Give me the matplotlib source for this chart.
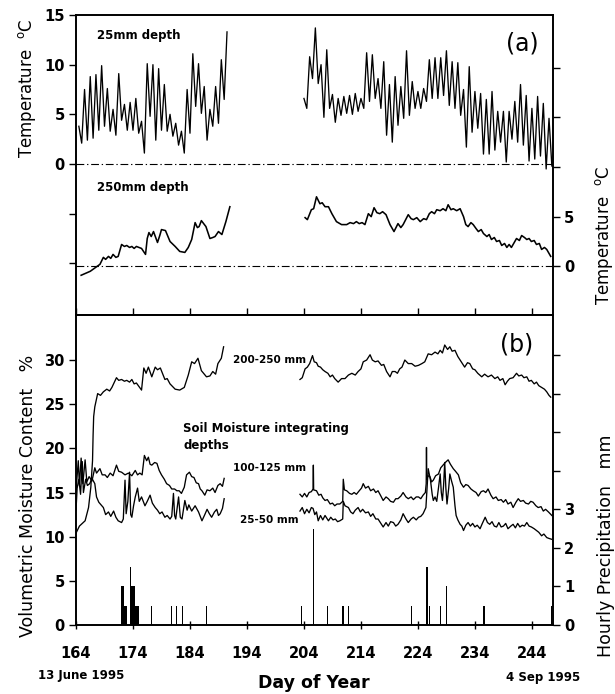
import matplotlib
matplotlib.use('Agg')
import matplotlib.pyplot as plt
import numpy as np

plt.rcParams['font.family'] = ['DejaVu Sans']
plt.rcParams['mathtext.fontset'] = 'dejavusans'

# ---------------- DATA ----------------
day_ticks = [164, 174, 184, 194, 204, 214, 224, 234, 244]

# 25 mm depth temperature (daily min / max, half-day sampling)
t25a_start = 164.5
t25a = [3.8, 2.1, 7.5, 2.4, 8.8, 2.6, 9.0, 3.4, 9.9, 3.8, 7.6, 3.3, 5.5, 2.9, 9.1, 4.4, 6.0,
        3.4, 6.2, 3.4, 6.6, 3.1, 4.3, 1.1, 10.1, 4.8, 10.0, 2.4, 9.6, 3.4, 8.0, 3.3, 5.0,
        2.8, 4.1, 1.9, 3.3, 1.1, 7.5, 3.1, 11.1, 5.8, 10.1, 5.1, 7.8, 2.4, 5.5, 3.8, 7.8,
        4.1, 10.5, 6.5, 13.3]
t25b_start = 204.0
t25b = [6.6, 5.6, 10.8, 8.6, 13.7, 8.1, 10.0, 4.7, 11.5, 5.6, 7.0, 4.2, 6.6, 4.9, 6.8, 5.1,
        6.9, 5.0, 7.1, 5.3, 6.6, 5.6, 11.2, 6.3, 11.0, 6.6, 8.6, 5.6, 10.3, 2.9, 8.0, 2.2,
        8.8, 3.9, 7.8, 4.6, 11.4, 4.9, 8.3, 5.6, 7.3, 5.6, 7.6, 6.3, 10.5, 6.6, 10.7, 6.6,
        10.7, 6.9, 11.4, 5.9, 10.3, 5.6, 10.2, 4.9, 7.5, 1.7, 9.8, 3.2, 7.3, 3.6, 7.1, 1.0,
        6.5, 1.0, 7.3, 1.4, 5.3, 2.2, 5.3, 0.2, 5.3, 2.5, 6.3, 2.2, 8.0, 1.9, 6.9, 0.3,
        5.6, 0.5, 6.8, 0.8, 6.1, -0.5, 4.6, -0.2]

# 250 mm depth temperature
t250a_days = [164.9, 166.5, 168.2, 168.8, 169.2, 169.7, 170.1, 170.5, 171.0, 171.4, 172.0,
              172.5, 172.9, 173.4, 173.8, 174.2, 174.6, 175.5, 176.2, 176.5, 176.8, 177.2,
              177.6, 178.3, 178.7, 179.0, 179.7, 180.5, 181.4, 182.2, 183.1, 183.7, 184.3,
              184.9, 185.3, 185.6, 186.0, 186.8, 187.5, 188.0, 188.4, 189.0, 189.6, 190.3, 191.0]
t250a = [-0.9, -0.5, 0.2, 0.9, 0.7, 1.0, 0.8, 1.2, 0.9, 1.0, 2.2,
         2.0, 2.1, 1.9, 2.0, 1.8, 2.0, 1.8, 1.2, 2.8, 3.4, 3.0,
         3.5, 2.4, 3.1, 3.7, 3.6, 2.5, 2.0, 1.5, 1.4, 1.9, 2.7,
         4.4, 3.9, 4.0, 4.6, 4.0, 2.8, 2.9, 3.0, 3.5, 3.2, 4.5, 6.0]
t250b_days = [204.2, 204.6, 205.3, 205.7, 206.2, 206.8, 207.2, 207.7, 208.3, 208.9, 209.7,
              210.6, 211.5, 212.1, 212.7, 213.2, 213.7, 214.2, 214.7, 215.3, 215.8, 216.3,
              216.8, 217.3, 217.8, 218.4, 219.1, 219.8, 220.5, 221.0, 221.4, 222.3, 222.8,
              223.2, 223.8, 224.4, 225.0, 225.5, 226.0, 226.4, 226.9, 227.3, 227.9, 228.4,
              228.9, 229.3, 229.8, 230.2, 230.8, 231.4, 232.0, 232.4, 232.8, 233.3, 233.7,
              234.2, 234.6, 235.1, 235.5, 236.1, 236.5, 236.9, 237.4, 237.8, 238.3, 238.7,
              239.2, 239.6, 240.0, 240.4, 240.9, 241.3, 241.8, 242.2, 242.7, 243.1, 243.5,
              243.9, 244.4, 244.8, 245.3, 245.7, 246.2, 246.6, 247.0, 247.3]
t250b = [4.9, 4.7, 5.7, 5.8, 7.0, 6.3, 6.4, 6.0, 6.0, 5.3, 4.5,
         4.2, 4.2, 4.4, 4.3, 4.5, 4.3, 4.4, 4.2, 5.3, 5.0, 5.9,
         5.4, 5.3, 5.5, 5.2, 4.2, 3.5, 4.3, 3.9, 4.2, 5.2, 4.8,
         4.7, 4.9, 4.5, 4.8, 4.7, 5.3, 5.5, 5.3, 5.7, 5.6, 5.8,
         5.6, 6.2, 5.7, 5.8, 5.6, 5.8, 5.0, 4.2, 4.0, 4.4, 4.2,
         3.8, 3.5, 3.7, 3.3, 3.0, 3.2, 2.7, 2.9, 2.5, 2.6, 2.1,
         2.3, 1.9, 2.2, 1.9, 2.4, 2.8, 2.6, 3.1, 2.9, 2.7, 2.8,
         2.5, 2.6, 2.2, 2.3, 1.7, 1.9, 1.7, 1.3, 1.0]

# Soil moisture (%), 200-250 mm
m200a = [(164.0, 10.4), (164.6, 11.2), (165.6, 11.8), (166.2, 13.3), (166.6, 15.6), (166.9, 18.6),
         (167.0, 21.5), (167.1, 23.6), (167.3, 24.7), (167.8, 26.2), (168.3, 26.0), (168.8, 26.4),
         (169.4, 26.7), (169.9, 26.5), (170.3, 26.9), (171.1, 28.0), (171.5, 27.7), (172.0, 27.8),
         (172.5, 27.6), (172.9, 27.7), (173.4, 27.5), (173.8, 27.8), (174.2, 27.3), (174.6, 27.4),
         (175.5, 26.6), (175.9, 29.1), (176.3, 28.5), (176.7, 29.2), (177.3, 28.1), (177.9, 29.2),
         (178.3, 28.9), (178.8, 29.1), (179.6, 27.8), (180.0, 27.9), (180.5, 27.3), (181.4, 26.7),
         (182.2, 26.6), (183.0, 26.9), (183.7, 28.3), (184.3, 29.8), (184.8, 29.6), (185.4, 30.2),
         (186.0, 28.8), (186.9, 28.1), (187.5, 28.2), (188.0, 28.7), (188.5, 28.4), (188.9, 29.6),
         (189.5, 30.2), (189.9, 31.5)]
m200b = [(203.3, 27.8), (203.7, 28.0), (204.2, 29.0), (204.6, 29.2), (205.0, 29.6), (205.5, 30.5),
         (205.8, 29.8), (206.2, 29.7), (206.5, 29.3), (206.9, 29.2), (207.3, 28.9), (207.7, 28.7),
         (208.2, 28.5), (208.6, 28.1), (209.0, 28.3), (209.4, 27.9), (210.0, 27.5), (210.6, 27.9),
         (211.2, 27.9), (211.8, 28.3), (212.4, 28.5), (213.0, 28.3), (213.5, 28.7), (214.0, 29.0),
         (214.4, 29.8), (215.0, 30.0), (215.6, 30.6), (216.0, 30.0), (216.5, 29.8), (217.0, 29.9),
         (217.6, 29.4), (218.0, 29.5), (218.5, 28.7), (219.1, 28.1), (219.5, 28.7), (220.0, 28.7),
         (220.4, 28.5), (220.8, 29.0), (221.2, 29.2), (221.7, 30.0), (222.3, 29.6), (222.9, 29.6),
         (223.5, 29.3), (224.1, 29.4), (224.7, 29.6), (225.2, 29.8), (225.8, 30.7), (226.4, 30.6),
         (227.0, 30.9), (227.5, 30.7), (227.9, 31.1), (228.3, 30.8), (228.7, 31.7), (229.2, 31.2),
         (229.6, 31.5), (230.0, 31.0), (230.5, 31.1), (231.0, 30.4), (231.4, 30.0), (231.8, 29.6),
         (232.2, 29.2), (232.7, 29.7), (233.1, 29.6), (233.6, 29.0), (234.0, 28.9), (234.5, 28.5),
         (235.2, 28.1), (235.7, 28.4), (236.3, 28.1), (236.9, 28.3), (237.5, 27.9), (238.0, 28.1),
         (238.4, 27.7), (238.9, 27.9), (239.3, 27.2), (239.7, 27.6), (240.1, 27.9), (240.7, 28.0),
         (241.3, 28.5), (241.7, 28.2), (242.2, 28.3), (242.6, 28.0), (243.1, 28.1), (243.5, 27.6),
         (243.9, 27.7), (244.4, 27.3), (244.8, 27.5), (245.2, 27.1), (245.7, 26.9), (246.2, 26.7),
         (246.6, 26.4), (247.0, 26.0), (247.3, 25.8)]

# Soil moisture (%), 100-125 mm
m100a = [(164.0, 15.2), (164.4, 18.6), (164.6, 15.8), (164.9, 18.9), (165.2, 16.0), (165.6, 18.7),
         (165.9, 16.2), (166.3, 16.8), (166.8, 16.3), (167.3, 17.8), (167.6, 17.2), (168.2, 17.7),
         (168.6, 17.0), (169.1, 17.0), (169.5, 16.7), (170.0, 17.2), (170.5, 16.9), (171.1, 18.1),
         (171.5, 17.4), (172.0, 17.3), (172.6, 17.0), (173.2, 17.2), (173.8, 16.9), (174.4, 17.5),
         (174.8, 17.0), (175.2, 17.2), (175.6, 17.0), (176.0, 19.2), (176.4, 18.6), (176.7, 19.0),
         (177.0, 18.2), (177.3, 18.1), (177.8, 18.4), (178.2, 18.3), (178.6, 17.5), (179.0, 17.0),
         (179.5, 16.5), (179.9, 16.0), (180.4, 15.8), (180.8, 15.4), (181.3, 15.4), (181.7, 15.2),
         (182.1, 15.2), (182.5, 14.9), (183.0, 15.6), (183.4, 17.0), (183.9, 17.3), (184.3, 16.8),
         (184.7, 16.7), (185.1, 16.1), (185.5, 16.0), (185.8, 15.4), (186.1, 15.2), (186.6, 14.7),
         (187.0, 15.3), (187.5, 15.2), (188.0, 15.5), (188.4, 15.0), (188.9, 15.8), (189.3, 16.0),
         (189.7, 15.7), (190.0, 16.6)]
m100b = [(203.3, 14.8), (203.7, 14.5), (204.1, 14.9), (204.5, 14.5), (204.9, 15.0), (205.3, 15.1),
         (205.6, 15.4), (205.65, 18.1), (205.7, 15.3), (206.2, 15.2), (206.6, 14.7), (207.0, 14.8),
         (207.3, 14.4), (207.7, 14.1), (208.1, 14.2), (208.6, 13.7), (209.0, 13.8), (209.4, 13.5),
         (209.8, 13.7), (210.3, 13.7), (210.8, 14.0), (210.9, 16.5), (211.1, 15.3), (211.5, 15.2),
         (212.0, 14.9), (212.4, 14.8), (212.8, 15.0), (213.2, 14.8), (213.7, 15.2), (214.1, 15.5),
         (214.4, 16.0), (214.8, 15.5), (215.3, 15.7), (215.7, 15.2), (216.2, 15.4), (216.6, 15.0),
         (217.0, 15.2), (217.5, 14.6), (217.9, 14.1), (218.4, 14.5), (218.8, 14.3), (219.2, 14.0),
         (219.7, 13.9), (220.1, 14.3), (220.5, 14.3), (221.0, 14.6), (221.4, 15.0), (221.9, 14.5),
         (222.3, 14.3), (222.8, 14.5), (223.2, 14.2), (223.7, 14.5), (224.1, 14.5), (224.5, 14.3),
         (224.9, 14.7), (225.3, 15.0), (225.45, 16.0), (225.5, 20.1), (225.55, 16.5), (225.8, 16.9),
         (226.1, 16.8), (226.4, 16.2), (226.7, 16.4), (227.1, 16.9), (227.6, 17.1), (228.0, 17.8),
         (228.4, 18.1), (228.8, 18.4), (229.3, 18.7), (229.7, 18.2), (230.2, 17.7), (230.6, 17.4),
         (231.1, 17.0), (231.5, 16.1), (232.0, 15.6), (232.4, 15.9), (232.8, 15.8), (233.3, 15.4),
         (233.7, 15.2), (234.2, 15.0), (234.6, 14.6), (235.1, 15.1), (235.5, 15.2), (235.9, 15.0),
         (236.3, 15.4), (236.8, 14.7), (237.2, 14.3), (237.7, 14.5), (238.1, 14.1), (238.6, 14.2),
         (239.0, 13.9), (239.4, 14.2), (239.8, 13.7), (240.3, 13.9), (240.7, 13.3), (241.2, 13.9),
         (241.6, 14.3), (242.0, 14.0), (242.5, 14.1), (242.9, 13.8), (243.4, 13.7), (243.8, 14.0),
         (244.2, 13.9), (244.7, 13.5), (245.1, 13.3), (245.6, 13.4), (246.0, 12.9), (246.4, 13.1),
         (246.9, 12.8), (247.2, 12.6), (247.5, 12.4)]

# Soil moisture (%), 25-50 mm
m25a = [(164.0, 13.0), (164.2, 15.5), (164.5, 16.5), (164.8, 14.8), (165.1, 18.5), (165.3, 15.0),
        (165.7, 16.5), (166.0, 15.8), (166.4, 16.0), (166.8, 16.6), (167.3, 16.0), (167.6, 14.5),
        (168.0, 13.9), (168.4, 13.6), (168.8, 13.3), (169.2, 12.5), (169.7, 12.8), (170.1, 12.3),
        (170.6, 12.9), (171.0, 12.2), (171.4, 11.8), (172.0, 11.6), (172.3, 12.0), (172.6, 16.4),
        (172.8, 12.6), (173.1, 14.0), (173.4, 17.3), (173.6, 12.5), (173.8, 12.2), (174.1, 13.5),
        (174.4, 14.5), (174.8, 15.5), (175.1, 14.0), (175.5, 14.5), (176.1, 13.5), (176.5, 14.0),
        (177.0, 14.7), (177.4, 13.8), (177.9, 13.3), (178.3, 13.0), (178.7, 12.6), (179.1, 12.8),
        (179.6, 12.2), (180.0, 12.4), (180.5, 12.0), (180.8, 12.3), (181.1, 14.9), (181.3, 12.4),
        (181.5, 12.0), (182.0, 14.5), (182.3, 12.2), (182.6, 12.0), (183.1, 14.1), (183.5, 13.0),
        (183.8, 13.6), (184.3, 12.9), (184.9, 13.5), (185.5, 12.8), (186.1, 11.8), (186.6, 12.5),
        (187.0, 13.1), (187.4, 12.6), (187.8, 12.2), (188.3, 12.8), (188.7, 13.1), (189.0, 12.4),
        (189.3, 12.6), (189.7, 13.2), (190.0, 14.3)]
m25b = [(203.3, 12.9), (203.7, 13.3), (204.1, 12.6), (204.5, 13.1), (204.9, 12.7), (205.3, 13.3),
        (205.6, 13.2), (205.9, 12.5), (206.2, 12.8), (206.5, 11.8), (206.9, 12.4), (207.3, 11.9),
        (207.7, 12.4), (208.3, 11.8), (208.7, 12.2), (209.1, 11.9), (209.5, 12.0), (209.9, 11.7),
        (210.3, 11.8), (210.8, 12.0), (210.9, 14.0), (211.2, 13.5), (211.8, 13.3), (212.2, 12.8),
        (212.6, 12.6), (213.0, 13.0), (213.5, 13.3), (213.9, 12.8), (214.3, 13.1), (214.8, 12.7),
        (215.3, 12.8), (215.7, 12.3), (216.1, 12.6), (216.6, 12.0), (217.0, 12.0), (217.5, 11.5),
        (217.9, 11.1), (218.4, 11.6), (218.8, 11.2), (219.2, 11.7), (219.7, 11.6), (220.1, 11.2),
        (220.5, 11.4), (221.0, 11.9), (221.4, 12.6), (221.9, 12.0), (222.3, 11.6), (222.8, 12.0),
        (223.2, 12.2), (223.7, 11.9), (224.1, 12.2), (224.5, 12.3), (224.9, 12.6), (225.4, 13.3),
        (225.8, 17.7), (226.2, 16.4), (226.5, 14.8), (226.7, 14.1), (227.0, 14.5), (227.3, 14.0),
        (227.6, 15.5), (227.9, 17.1), (228.1, 15.0), (228.3, 14.1), (228.5, 15.8), (228.7, 18.4),
        (228.9, 15.5), (229.1, 13.7), (229.4, 15.5), (229.6, 17.1), (229.9, 16.3), (230.2, 15.6),
        (230.5, 13.5), (230.7, 12.4), (231.0, 11.9), (231.4, 11.4), (231.7, 11.2), (232.0, 10.7),
        (232.4, 11.3), (232.8, 11.6), (233.2, 11.2), (233.6, 11.5), (234.0, 11.1), (234.4, 11.3),
        (234.9, 10.9), (235.3, 11.5), (235.8, 12.2), (236.2, 11.6), (236.6, 11.4), (237.0, 11.7),
        (237.4, 11.2), (237.8, 11.1), (238.2, 11.6), (238.6, 11.1), (239.0, 11.2), (239.4, 11.5),
        (239.8, 10.9), (240.3, 11.2), (240.7, 11.4), (241.1, 11.0), (241.5, 11.5), (241.9, 11.1),
        (242.3, 11.3), (242.7, 11.2), (243.1, 11.6), (243.5, 11.2), (243.9, 11.1), (244.4, 10.9),
        (244.8, 10.7), (245.2, 10.5), (245.7, 10.1), (246.1, 10.3), (246.6, 9.9), (247.0, 9.8),
        (247.5, 9.7)]

# Hourly precipitation (mm)
rain_days = [172.0, 172.2, 172.4, 172.6, 172.8, 173.6, 173.8, 174.0, 174.2, 174.4, 174.6, 174.8,
             175.0, 177.3, 180.7, 181.7, 182.7, 186.9, 203.6, 205.6, 208.1, 210.7, 211.0, 211.8,
             222.9, 225.6, 226.0, 227.9, 229.0, 235.6, 247.4]
rain_mm = [1.0, 1.0, 1.0, 0.5, 0.5, 1.5, 1.0, 1.0, 1.0, 0.5, 0.5, 0.5,
           0.5, 0.5, 0.5, 0.5, 0.5, 0.5, 0.5, 2.5, 0.5, 0.5, 0.5, 0.5,
           0.5, 1.5, 0.5, 0.5, 1.0, 0.5, 0.5]

# ---------------- FIGURE ----------------
W_PX, H_PX = 615, 694
fig = plt.figure(figsize=(W_PX / 100, H_PX / 100), dpi=100)


def fx(x):
    return x / W_PX


def fy(y):
    return 1 - y / H_PX


X0, X1 = 76, 553
axa = fig.add_axes([fx(X0), fy(315), fx(X1 - X0), (315 - 15) / H_PX])
axb = fig.add_axes([fx(X0), fy(625), fx(X1 - X0), (625 - 315) / H_PX])

LW = 0.95
SPW = 1.2
tickfont = dict(fontsize=10.5, fontweight='bold')
dashdot = (0, (7, 2.5, 1.2, 2.5))
XLIM = (164, 247.7)

# ---- panel (a)
d25a = t25a_start + 0.5 * np.arange(len(t25a))
d25b = t25b_start + 0.5 * np.arange(len(t25b))
axa.plot(d25a, t25a, color='k', lw=LW)
axa.plot(d25b, t25b, color='k', lw=LW)
axa.axhline(0, color='k', lw=0.8, ls=dashdot)
axa.set_xlim(*XLIM)
axa.set_ylim(-15.2, 15)
axa.set_yticks([-10, -5, 0, 5, 10, 15])
axa.set_yticklabels(['', '', '0', '5', '10', '15'], **tickfont)
axa.set_xticks(day_ticks)
axa.set_xticklabels([])
axa.tick_params(axis='x', direction='in', length=5, width=1)
axa.tick_params(axis='y', direction='out', length=5, width=1, pad=3)

axa2 = axa.twinx()
axa2.plot(t250a_days, t250a, color='k', lw=LW * 1.2)
axa2.plot(t250b_days, t250b, color='k', lw=LW * 1.2)
axa2.axhline(0, color='k', lw=0.8, ls=dashdot)
axa2.set_ylim(-15.2 + 10.3, 15 + 10.3)
axa2.set_yticks([0, 5, 10, 15, 20])
axa2.set_yticklabels(['0', '5', '', '', ''], **tickfont)
axa2.tick_params(axis='y', direction='out', length=5, width=1, pad=3)
axa2.set_xlim(*XLIM)

# ---- panel (b)
for ser in (m200a, m200b, m100a, m100b, m25a, m25b):
    dd, vv = zip(*ser)
    axb.plot(dd, vv, color='k', lw=LW)
axb.set_xlim(*XLIM)
axb.set_ylim(0, 35.1)
axb.set_yticks([0, 5, 10, 15, 20, 25, 30])
axb.set_yticklabels(['0', '5', '10', '15', '20', '25', '30'], **tickfont)
axb.set_xticks(day_ticks)
axb.set_xticklabels([str(d) for d in day_ticks], **tickfont)
axb.tick_params(axis='x', direction='inout', length=6, width=1, pad=12)
axb.tick_params(axis='y', direction='out', length=5, width=1, pad=3)

axb2 = axb.twinx()
axb2.bar(rain_days, rain_mm, width=0.2, color='k', align='center')
axb2.set_ylim(0, 8.05)
axb2.set_yticks([0, 1, 2, 3, 4, 5, 6, 7])
axb2.set_yticklabels(['0', '1', '2', '3', '', '', '', ''], **tickfont)
axb2.tick_params(axis='y', direction='out', length=5, width=1, pad=3)
axb2.set_xlim(*XLIM)

for ax in (axa, axa2, axb, axb2):
    for s in ax.spines.values():
        s.set_linewidth(SPW)

# ---- texts
fig.text(fx(97), fy(36), '25mm depth', fontsize=8.5, fontweight='bold', ha='left', va='center')
fig.text(fx(97), fy(188), '250mm depth', fontsize=8.5, fontweight='bold', ha='left', va='center')
fig.text(fx(522), fy(43), '(a)', fontsize=17, ha='center', va='center')
fig.text(fx(517), fy(345), '(b)', fontsize=17, ha='center', va='center')
fig.text(fx(233), fy(360), '200-250 mm', fontsize=7.5, fontweight='bold', ha='left', va='center')
fig.text(fx(183), fy(428), 'Soil Moisture integrating', fontsize=8.5, fontweight='bold',
         ha='left', va='center')
fig.text(fx(183), fy(446), 'depths', fontsize=8.5, fontweight='bold', ha='left', va='center')
fig.text(fx(233), fy(468), '100-125 mm', fontsize=7.5, fontweight='bold', ha='left', va='center')
fig.text(fx(240), fy(520), '25-50 mm', fontsize=7.5, fontweight='bold', ha='left', va='center')

fig.text(fx(27), fy(88), r'Temperature  $^{\mathrm{o}}$C', fontsize=12, rotation=90,
         ha='center', va='center')
fig.text(fx(604), fy(235), r'Temperature  $^{\mathrm{o}}$C', fontsize=12, rotation=90,
         ha='center', va='center')
fig.text(fx(28), fy(496), 'Volumetric Moisture Content   %', fontsize=12.5, rotation=90,
         ha='center', va='center')
fig.text(fx(606), fy(546), 'Hourly Precipitation   mm', fontsize=12.5, rotation=90,
         ha='center', va='center')

fig.text(fx(314), fy(683), 'Day of Year', fontsize=12.5, fontweight='bold', ha='center', va='center')
fig.text(fx(38), fy(676), '13 June 1995', fontsize=8.5, fontweight='bold', ha='left', va='center')
fig.text(fx(580), fy(677), '4 Sep 1995', fontsize=8.5, fontweight='bold', ha='right', va='center')

fig.savefig('out.png', dpi=100)
